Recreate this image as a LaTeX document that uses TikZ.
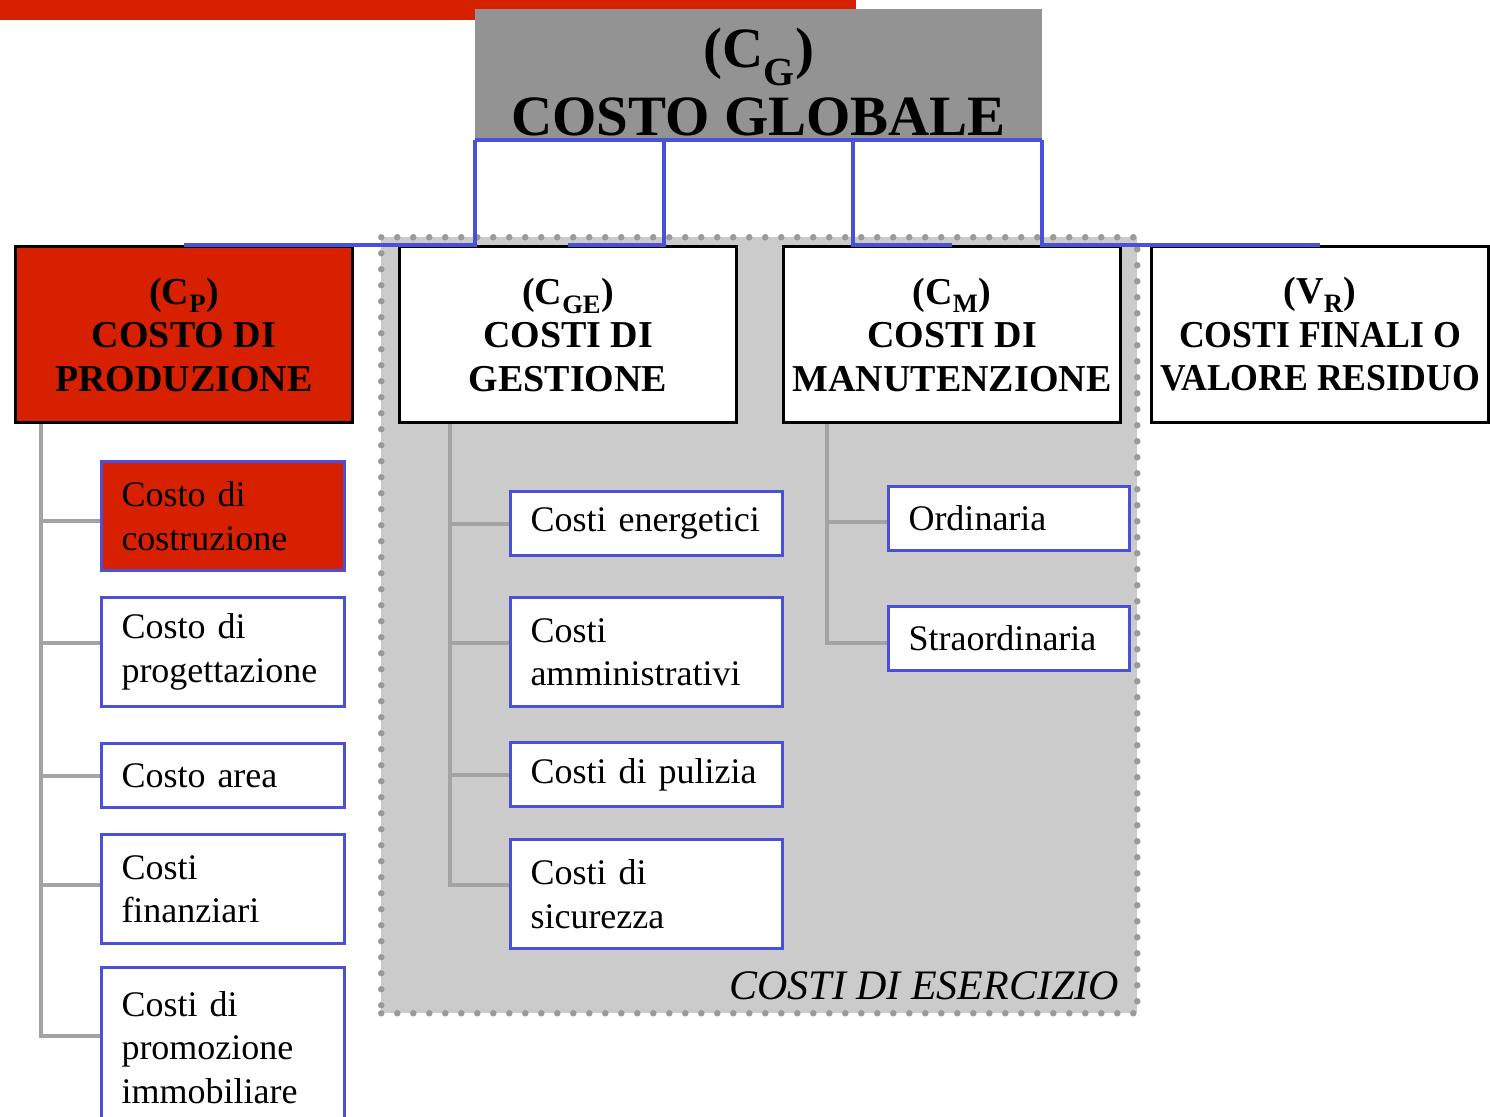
\documentclass[tikz,border=0pt]{standalone}
\usepackage{fontspec}
\setmainfont{Liberation Serif}
\usetikzlibrary{calc}
\definecolor{cpred}{HTML}{D62000}
\definecolor{cblue}{HTML}{4A50D8}
\definecolor{cgbox}{HTML}{939393}
\definecolor{regfill}{HTML}{CBCBCB}
\definecolor{dotgray}{HTML}{9A9A9A}
\definecolor{treegray}{HTML}{A3A3A3}
\begin{document}
\begin{tikzpicture}[x=1pt,y=-1pt,
  region/.style={fill=regfill, draw=dotgray, line width=6.5pt, dash pattern=on 0pt off 16pt, line cap=round, anchor=north west},
  hdr/.style={draw=black, line width=3pt, minimum width=337pt, minimum height=176pt, align=center, anchor=north west, inner sep=0pt, font=\fontsize{38}{43.5}\selectfont\bfseries},
  leaf/.style={draw=cblue, line width=3pt, align=left, inner xsep=20pt, inner ysep=0pt, anchor=north west, font=\fontsize{36}{43.5}\selectfont},
  lcol/.style={leaf, minimum width=243pt, text width=203pt},
  mcol/.style={leaf, minimum width=272pt, text width=232pt},
  rcol/.style={leaf, minimum width=241pt, text width=201pt},
  bl/.style={draw=cblue, line width=4pt},
  tr/.style={draw=treegray, line width=4pt}
]
\useasboundingbox (0,0) rectangle (1490,1116);
\fill[cpred] (0,0) rectangle (856,20);

% costi di esercizio region
\node[region, minimum width=756pt, minimum height=776pt] (ese) at (378,234) {};
\node[anchor=base east, font=\fontsize{42}{46}\selectfont\itshape] (esel) at ($(ese.south east)+(-18,-17)$) {COSTI DI ESERCIZIO};

% top box
\node[fill=cgbox, anchor=north west, minimum width=567pt, minimum height=131pt, inner sep=0pt] (cg) at (475,9) {};
\node[align=center, font=\fontsize{57}{63}\selectfont\bfseries, inner sep=0pt] (cgt) at ($(cg.center)+(0,7)$) {(C\textsubscript{G})\\[5pt]COSTO GLOBALE};

% header boxes
\node[hdr, fill=cpred] (cp) at (14,245) {(C\textsubscript{P})\\COSTO DI\\PRODUZIONE};
\node[hdr, fill=white] (cge) at (398,245) {(C\textsubscript{GE})\\COSTI DI\\GESTIONE};
\node[hdr, fill=white] (cm) at (782,245) {(C\textsubscript{M})\\COSTI DI\\MANUTENZIONE};
\node[hdr, fill=white] (vr) at (1150,245) {(V\textsubscript{R})\\\scalebox{0.94}[1]{COSTI FINALI O}\\\scalebox{0.94}[1]{VALORE RESIDUO}};

% blue connectors
\draw[bl] (cg.south west) -- (cg.south east);
\draw[bl] (cg.south west) |- (cp.north);
\draw[bl] ($(cg.south west)!1/3!(cg.south east)$) |- (cge.north);
\draw[bl] ($(cg.south west)!2/3!(cg.south east)$) |- (cm.north);
\draw[bl] (cg.south east) |- (vr.north);

% left column
\node[lcol, fill=cpred, minimum height=109pt] (cc) at (100,460) {Costo di\\costruzione};
\node[lcol, fill=white, minimum height=109pt] (cpg) at (100,596) {Costo di\\progettazione};
\node[lcol, fill=white, minimum height=64pt] (ca) at (100,742) {Costo area};
\node[lcol, fill=white, minimum height=109pt] (cf) at (100,833) {Costi\\finanziari};
\node[lcol, fill=white, minimum height=160pt] (cpi) at (100,966) {Costi di\\promozione\\immobiliare};

% middle column
\node[mcol, fill=white, minimum height=64pt] (ce) at (509,490) {Costi energetici};
\node[mcol, fill=white, minimum height=109pt] (cam) at (509,596) {Costi\\amministrativi};
\node[mcol, fill=white, minimum height=64pt] (cpu) at (509,741) {Costi di pulizia};
\node[mcol, fill=white, minimum height=109pt] (cs) at (509,838) {Costi di\\sicurezza};

% right column
\node[rcol, fill=white, minimum height=64pt] (ord) at (887,485) {Ordinaria};
\node[rcol, fill=white, minimum height=64pt] (str) at (887,605) {Straordinaria};

% tree lines
\coordinate (lt) at ($(cp.south west)+(27,0)$);
\coordinate (mt) at ($(cge.south west)+(52,0)$);
\coordinate (rt) at ($(cm.south west)+(45,0)$);
\draw[tr] (lt) |- ([yshift=-5pt]cc.west);
\draw[tr] (lt) |- ([yshift=9pt]cpg.west);
\draw[tr] (lt) |- (ca.west);
\draw[tr] (lt) |- ([yshift=4pt]cf.west);
\draw[tr] (lt) |- ([yshift=12pt]cpi.west);
\draw[tr] (mt) |- (ce.west);
\draw[tr] (mt) |- ([yshift=9pt]cam.west);
\draw[tr] (mt) |- (cpu.west);
\draw[tr] (mt) |- ([yshift=9pt]cs.west);
\draw[tr] (rt) |- ([yshift=-3pt]ord.west);
\draw[tr] (rt) |- ([yshift=-4pt]str.west);
\end{tikzpicture}
\end{document}
